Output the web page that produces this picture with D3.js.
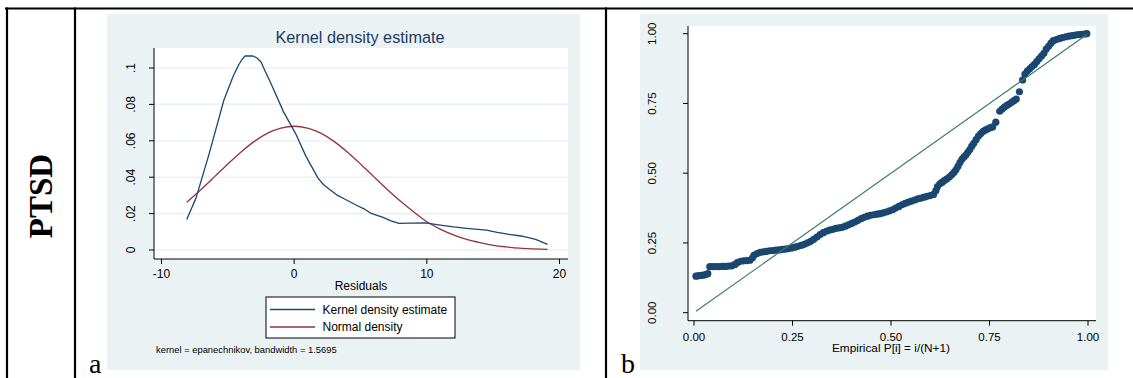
<!DOCTYPE html>
<html>
<head>
<meta charset="utf-8">
<script src="https://cdn.jsdelivr.net/npm/d3@7"></script>
<style>
  html, body { margin: 0; padding: 0; background: #ffffff; }
  svg { display: block; }
  .sans { font-family: "Liberation Sans", Arial, Helvetica, sans-serif; }
  .serif { font-family: "Liberation Serif", "Times New Roman", Times, serif; }
</style>
</head>
<body>
<svg id="fig" width="1133" height="378"></svg>
<script>
// ---- Panel a: kernel density of the residuals ----
const kdeResidual = [-8.1, -7.4, -6.4, -5.3, -4.6, -4.2, -3.9, -3.7, -3.1, -2.8, -2.5, -2.2, -1.8, -0.8, 0.1, 0.9, 1.8, 2.2, 2.7, 3.2, 3.8, 4.7, 5.3, 5.8, 6.7, 7.3, 7.9, 8.8, 9.9, 11.0, 12.0, 13.0, 14.5, 15.3, 16.2, 17.1, 18.2, 19.1];
const kdeDensity  = [0.0168, 0.0285, 0.0531, 0.0823, 0.0955, 0.1015, 0.1050, 0.1066, 0.1066, 0.1055, 0.1033, 0.0985, 0.0923, 0.0759, 0.0641, 0.0513, 0.0395, 0.0360, 0.0331, 0.0303, 0.0280, 0.0246, 0.0225, 0.0201, 0.0179, 0.0160, 0.0146, 0.0148, 0.0149, 0.0137, 0.0127, 0.0119, 0.0109, 0.0097, 0.0086, 0.0077, 0.0058, 0.0031];

const normResidual = [-8.1, -7, -6, -5, -4, -3, -2, -1, 0, 1, 2, 3, 4, 5, 6, 7, 8, 9, 10, 11, 12, 13, 14, 15, 16, 17, 18, 19.1];
const normDensity  = [0.0262, 0.0334, 0.0403, 0.0473, 0.0539, 0.0597, 0.0642, 0.0670, 0.0680, 0.0670, 0.0642, 0.0597, 0.0539, 0.0473, 0.0403, 0.0334, 0.0269, 0.0210, 0.0155, 0.0115, 0.0083, 0.0058, 0.0040, 0.0026, 0.0017, 0.0010, 0.0006, 0.0003];

const densityTicks = [0, 0.02, 0.04, 0.06, 0.08, 0.1];
const densityTickLabels = ["0", ".02", ".04", ".06", ".08", ".1"];
const residualTicks = [-10, 0, 10, 20];
const residualTickLabels = ["-10", "0", "10", "20"];
const legendLabels = ["Kernel density estimate", "Normal density"];
const kdeNote = "kernel = epanechnikov, bandwidth = 1.5695";

// ---- Panel b: standardized normal probability plot ----
const empiricalP = [
  0.005, 0.010, 0.015, 0.020, 0.025, 0.030, 0.035,
  0.040, 0.048, 0.056, 0.064, 0.072, 0.080, 0.088, 0.096,
  0.104, 0.110, 0.118, 0.126, 0.134, 0.142, 0.148, 0.152,
  0.160, 0.168, 0.176, 0.184, 0.192, 0.200, 0.208, 0.216,
  0.224, 0.232, 0.240, 0.248, 0.256, 0.264, 0.272, 0.280,
  0.288, 0.296, 0.304, 0.312, 0.320, 0.328, 0.336, 0.344,
  0.352, 0.360, 0.368, 0.376, 0.384, 0.392, 0.400, 0.408,
  0.416, 0.424, 0.432, 0.440, 0.448, 0.456, 0.464, 0.472,
  0.480, 0.488, 0.496, 0.504, 0.512, 0.520, 0.528, 0.536,
  0.544, 0.552, 0.560, 0.568, 0.576, 0.584, 0.592, 0.600,
  0.608, 0.614, 0.618, 0.624, 0.630, 0.636, 0.642, 0.648,
  0.654, 0.660, 0.665, 0.670, 0.675, 0.680, 0.685, 0.690,
  0.695, 0.700, 0.705, 0.710, 0.716, 0.722, 0.728, 0.734,
  0.740, 0.746, 0.752, 0.758, 0.766, 0.776, 0.782, 0.788,
  0.794, 0.800, 0.806, 0.812, 0.818, 0.826, 0.834, 0.840,
  0.846, 0.852, 0.858, 0.864, 0.870, 0.876, 0.882, 0.888,
  0.894, 0.900, 0.906, 0.912, 0.920, 0.928, 0.936, 0.944,
  0.952, 0.960, 0.968, 0.976, 0.984, 0.992, 0.997
];
const normalF = [
  0.131, 0.132, 0.133, 0.134, 0.135, 0.137, 0.140,
  0.165, 0.165, 0.165, 0.165, 0.166, 0.166, 0.167, 0.168,
  0.173, 0.180, 0.184, 0.186, 0.187, 0.188, 0.196, 0.206,
  0.212, 0.216, 0.218, 0.220, 0.222, 0.223, 0.224, 0.225,
  0.227, 0.228, 0.230, 0.232, 0.235, 0.238, 0.241, 0.245,
  0.250, 0.256, 0.263, 0.271, 0.280, 0.287, 0.292, 0.296,
  0.299, 0.302, 0.304, 0.306, 0.310, 0.315, 0.320, 0.325,
  0.331, 0.337, 0.342, 0.346, 0.349, 0.351, 0.353, 0.355,
  0.358, 0.361, 0.365, 0.369, 0.375, 0.381, 0.387, 0.392,
  0.396, 0.400, 0.404, 0.408, 0.411, 0.414, 0.417, 0.420,
  0.424, 0.438, 0.452, 0.462, 0.468, 0.474, 0.480, 0.486,
  0.494, 0.503, 0.512, 0.525, 0.538, 0.550, 0.558, 0.565,
  0.575, 0.585, 0.597, 0.607, 0.620, 0.633, 0.642, 0.650,
  0.655, 0.659, 0.663, 0.666, 0.683, 0.722, 0.730, 0.737,
  0.743, 0.748, 0.754, 0.760, 0.766, 0.792, 0.834, 0.855,
  0.866, 0.874, 0.882, 0.890, 0.900, 0.910, 0.920, 0.930,
  0.945, 0.955, 0.966, 0.975, 0.979, 0.983, 0.986, 0.989,
  0.991, 0.993, 0.995, 0.997, 0.998, 0.999, 1.000
];
const probTicks = [0, 0.25, 0.5, 0.75, 1];
const probTickLabels = ["0.00", "0.25", "0.50", "0.75", "1.00"];
const probAxisTitle = "Empirical P[i] = i/(N+1)";

// ---- styling ----
const navy = "#1a476f";
const maroon = "#90353b";
const refGreen = "#3a7d6a";
const panelBg = "#eaf2f3";
const titleColor = "#1f3a5f";

const svg = d3.select("#fig");

// table frame around the two panels
const frame = svg.append("g").attr("stroke", "#000").attr("stroke-width", 2.2);
frame.append("line").attr("x1", 5).attr("x2", 1133).attr("y1", 8.5).attr("y2", 8.5);
[7, 75, 606].forEach(x => {
  frame.append("line").attr("x1", x).attr("x2", x).attr("y1", 7.5).attr("y2", 378);
});

// row heading
svg.append("text").attr("class", "serif")
  .attr("transform", "translate(52,196) rotate(-90)")
  .attr("text-anchor", "middle")
  .attr("font-weight", "bold").attr("font-size", 33)
  .text("PTSD");

// ================= Panel a =================
const a = svg.append("g");
a.append("rect").attr("x", 107).attr("y", 14).attr("width", 473).attr("height", 356).attr("fill", panelBg);

const xA = d3.scaleLinear().domain([-10, 20]).range([161.5, 559.5]);
const yA = d3.scaleLinear().domain([0, 0.1]).range([250, 68]);
const plotA = { left: 154, right: 568, top: 48, bottom: 259 };

a.append("rect").attr("x", plotA.left).attr("y", plotA.top)
  .attr("width", plotA.right - plotA.left).attr("height", plotA.bottom - plotA.top)
  .attr("fill", "#fff");

// horizontal grid
a.append("g").selectAll("line").data(densityTicks).join("line")
  .attr("x1", plotA.left).attr("x2", plotA.right)
  .attr("y1", d => yA(d)).attr("y2", d => yA(d))
  .attr("stroke", panelBg).attr("stroke-width", 1.6);

a.append("text").attr("class", "sans")
  .attr("x", 360).attr("y", 42.5).attr("text-anchor", "middle")
  .attr("font-size", 16.3).attr("fill", titleColor)
  .text("Kernel density estimate");

// curves: the estimate as a polyline, the normal reference smoothed
const kdeLine = d3.line().x(d => xA(d[0])).y(d => yA(d[1]));
const normLine = d3.line().x(d => xA(d[0])).y(d => yA(d[1])).curve(d3.curveMonotoneX);
a.append("path").datum(normResidual.map((r, i) => [r, normDensity[i]]))
  .attr("d", normLine).attr("fill", "none").attr("stroke", maroon).attr("stroke-width", 1.3);
a.append("path").datum(kdeResidual.map((r, i) => [r, kdeDensity[i]]))
  .attr("d", kdeLine).attr("fill", "none").attr("stroke", navy).attr("stroke-width", 1.3)
  .attr("stroke-linejoin", "round");

// axes
const axA = a.append("g").attr("stroke", "#000").attr("stroke-width", 1);
axA.append("line").attr("x1", plotA.left).attr("x2", plotA.left).attr("y1", plotA.top).attr("y2", plotA.bottom);
axA.append("line").attr("x1", plotA.left).attr("x2", plotA.right).attr("y1", plotA.bottom).attr("y2", plotA.bottom);
axA.selectAll(".yt").data(densityTicks).join("line").attr("class", "yt")
  .attr("x1", plotA.left - 5).attr("x2", plotA.left).attr("y1", d => yA(d)).attr("y2", d => yA(d));
axA.selectAll(".xt").data(residualTicks).join("line").attr("class", "xt")
  .attr("x1", d => xA(d)).attr("x2", d => xA(d)).attr("y1", plotA.bottom).attr("y2", plotA.bottom + 5);

a.append("g").selectAll("text").data(densityTicks).join("text").attr("class", "sans")
  .attr("transform", d => `translate(135,${yA(d)}) rotate(-90)`)
  .attr("text-anchor", "middle").attr("font-size", 12).attr("fill", "#000")
  .text((d, i) => densityTickLabels[i]);
a.append("g").selectAll("text").data(residualTicks).join("text").attr("class", "sans")
  .attr("x", d => xA(d)).attr("y", 277.5)
  .attr("text-anchor", "middle").attr("font-size", 12).attr("fill", "#000")
  .text((d, i) => residualTickLabels[i]);
a.append("text").attr("class", "sans")
  .attr("x", 361).attr("y", 289.5).attr("text-anchor", "middle")
  .attr("font-size", 12).attr("fill", "#000").text("Residuals");

// legend
const leg = a.append("g");
leg.append("rect").attr("x", 266).attr("y", 297).attr("width", 189).attr("height", 41)
  .attr("fill", "#fff").attr("stroke", "#000").attr("stroke-width", 1);
[navy, maroon].forEach((c, i) => {
  const cy = 309.5 + i * 17.5;
  leg.append("line").attr("x1", 270).attr("x2", 315).attr("y1", cy).attr("y2", cy)
    .attr("stroke", c).attr("stroke-width", 1.3);
  leg.append("text").attr("class", "sans").attr("x", 322.5).attr("y", cy + 4.3)
    .attr("font-size", 12).attr("fill", "#000").text(legendLabels[i]);
});

a.append("text").attr("class", "sans").attr("x", 156).attr("y", 353)
  .attr("font-size", 9.4).attr("fill", "#000").text(kdeNote);

svg.append("text").attr("class", "serif").attr("x", 89).attr("y", 373)
  .attr("font-size", 28).attr("fill", "#000").text("a");

// ================= Panel b =================
const b = svg.append("g");
b.append("rect").attr("x", 640).attr("y", 14).attr("width", 468).attr("height", 356).attr("fill", panelBg);

const xB = d3.scaleLinear().domain([0, 1]).range([694, 1088]);
const yB = d3.scaleLinear().domain([0, 1]).range([312.7, 33.7]);
const plotB = { left: 688, right: 1096, top: 26, bottom: 320.7 };

b.append("rect").attr("x", plotB.left).attr("y", plotB.top)
  .attr("width", plotB.right - plotB.left).attr("height", plotB.bottom - plotB.top)
  .attr("fill", "#fff");

const pts = empiricalP.map((p, i) => [p, normalF[i]]);
b.append("g").selectAll("circle").data(pts).join("circle")
  .attr("cx", d => xB(d[0])).attr("cy", d => yB(d[1])).attr("r", 3.6)
  .attr("fill", navy);

// reference line F = P over the range of the plotted points
const pExt = d3.extent(empiricalP);
b.append("line")
  .attr("x1", xB(pExt[0])).attr("y1", yB(pExt[0]))
  .attr("x2", xB(pExt[1])).attr("y2", yB(pExt[1]))
  .attr("stroke", refGreen).attr("stroke-width", 1.2);

const axB = b.append("g").attr("stroke", "#000").attr("stroke-width", 1);
axB.append("line").attr("x1", plotB.left).attr("x2", plotB.left).attr("y1", plotB.top).attr("y2", plotB.bottom);
axB.append("line").attr("x1", plotB.left).attr("x2", plotB.right).attr("y1", plotB.bottom).attr("y2", plotB.bottom);
axB.selectAll(".yt").data(probTicks).join("line").attr("class", "yt")
  .attr("x1", plotB.left - 5).attr("x2", plotB.left).attr("y1", d => yB(d)).attr("y2", d => yB(d));
axB.selectAll(".xt").data(probTicks).join("line").attr("class", "xt")
  .attr("x1", d => xB(d)).attr("x2", d => xB(d)).attr("y1", plotB.bottom).attr("y2", plotB.bottom + 5);

b.append("g").selectAll("text").data(probTicks).join("text").attr("class", "sans")
  .attr("transform", d => `translate(656,${yB(d)}) rotate(-90)`)
  .attr("text-anchor", "middle").attr("font-size", 11.5).attr("fill", "#000")
  .text((d, i) => probTickLabels[i]);
b.append("g").selectAll("text").data(probTicks).join("text").attr("class", "sans")
  .attr("x", d => xB(d)).attr("y", 341)
  .attr("text-anchor", "middle").attr("font-size", 11.5).attr("fill", "#000")
  .text((d, i) => probTickLabels[i]);
b.append("text").attr("class", "sans")
  .attr("x", 891).attr("y", 352).attr("text-anchor", "middle")
  .attr("font-size", 11.8).attr("fill", "#000").text(probAxisTitle);

svg.append("text").attr("class", "serif").attr("x", 621).attr("y", 373)
  .attr("font-size", 28).attr("fill", "#000").text("b");
</script>
</body>
</html>
